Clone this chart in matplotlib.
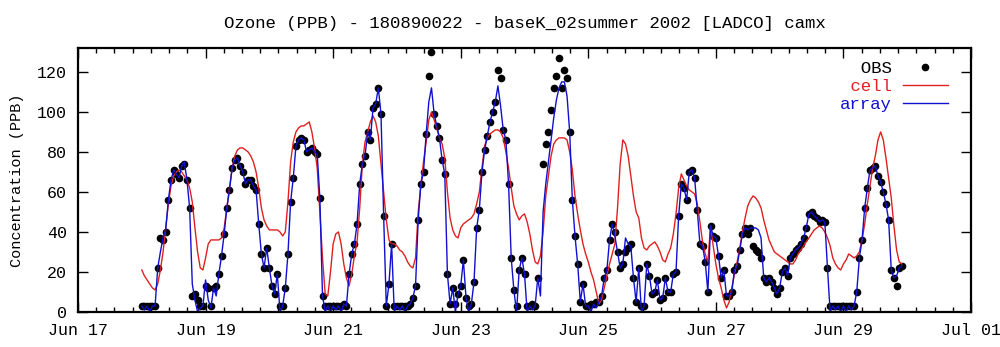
import numpy as np
import pandas as pd
import matplotlib
matplotlib.use('Agg')
import matplotlib.pyplot as plt
import matplotlib.dates as mdates
from matplotlib.ticker import FixedLocator

nan = np.nan

# hourly values, Jun 18 00:00 -> Jun 29 22:00 (one line per day)
obs = [
    3, 3, 3, 3, 3, 3, 22, 37, 36, 40, 56, 66, 71, 69, 67, 73, 74, 66, 52, 8, 9, 6, 3, 3,
    13, 12, 3, 12, 13, 19, 28, 39, 52, 61, 72, 76, 77, 73, 70, 64, 66, 66, 63, 61, 44, 29, 22, 32,
    22, 13, 9, 19, 3, 3, 12, 29, 55, 67, 83, 86, 87, 86, 80, 81, 82, 80, 79, 57, 8, 3, 3, 3,
    3, 3, 3, 3, 4, 3, 19, 29, 34, 44, 64, 74, 78, 90, 86, 102, 104, 112, 99, 48, 3, 14, 34, 3,
    3, 3, 3, 3, 3, 4, 7, 13, 46, 64, 70, 89, 118, 130, 99, 93, 87, 76, 69, 19, 4, 12, 4, 9,
    13, 26, 7, 3, 4, 15, 42, 51, 70, 81, 88, 95, 100, 105, 121, 117, 91, 86, 64, 27, 11, 3, 21, 27,
    19, 3, 3, 4, 3, 17, nan, 74, 84, 90, 101, 112, 118, 127, 112, 121, 117, 90, 56, 38, 24, 5, 14, 3,
    3, 4, 4, 5, 5, 8, 17, 21, 36, 44, 40, 30, 22, 24, 30, 32, 34, 17, 5, 22, 3, 3, 24, 18,
    9, 10, 16, 6, 7, 17, 10, 10, 19, 20, 48, 64, 62, 56, 70, 71, 67, 51, 34, 33, 25, 10, 43, 38,
    37, 28, 17, 21, 8, 8, 10, 21, 23, 31, 39, 42, 39, 42, 33, 31, 30, 27, 17, 15, 17, 15, 12, 9,
    12, 20, 22, 18, 27, 29, 31, 32, 34, 37, 42, 49, 50, 48, 47, 45, 46, 45, 22, 3, 3, 3, 3, 3,
    3, 3, 3, 3, 3, 10, 27, 36, 52, 62, 71, 72, 73, 68, 65, 60, 54, 46, 21, 17, 13, 22, 23,
]

cell = [
    21, 18, 16, 14, 12, 11, 14, 21, 30, 42, 54, 63, 68, 70, 71, 70, 68, 66, 62, 55, 42, 30, 22, 21,
    27, 34, 36, 36, 36, 36, 37, 42, 52, 62, 72, 78, 81, 82, 82, 81, 80, 78, 75, 70, 62, 52, 46, 43,
    41, 41, 41, 41, 40, 38, 40, 55, 75, 85, 90, 92, 93, 93, 94, 95, 90, 82, 72, 50, 27, 9, 8, 20,
    34, 39, 40, 34, 24, 17, 13, 19, 28, 35, 52, 74, 85, 90, 95, 98, 95, 88, 74, 60, 46, 36, 34, 34,
    33, 31, 30, 28, 25, 23, 22, 27, 50, 63, 75, 85, 96, 100, 96, 92, 87, 84, 77, 60, 47, 41, 38, 37,
    42, 44, 45, 46, 47, 49, 54, 60, 72, 83, 87, 89, 90, 91, 91, 90, 87, 80, 72, 62, 53, 49, 46, 48,
    49, 45, 39, 31, 25, 24, 28, 40, 58, 68, 78, 84, 86, 87, 87, 87, 86, 80, 71, 58, 49, 41, 34, 29,
    25, 20, 16, 10, 4, 6, 12, 18, 24, 29, 34, 52, 74, 86, 84, 78, 68, 58, 50, 47, 37, 32, 31, 33,
    34, 35, 33, 30, 26, 25, 29, 32, 39, 49, 62, 69, 66, 63, 61, 60, 59, 54, 45, 35, 29, 25, 43, 33,
    24, 17, 12, 6, 2, 5, 12, 19, 25, 32, 40, 47, 53, 56, 58, 57, 55, 52, 46, 41, 36, 33, 30, 29,
    28, 27, 26, 25, 24, 24, 26, 29, 31, 33, 35, 37, 39, 41, 42, 43, 42, 40, 37, 33, 27, 24, 22, 21,
    24, 26, 29, 28, 27, 28, 30, 36, 44, 54, 63, 72, 78, 86, 90, 86, 77, 67, 57, 43, 31, 25, 24,
]

array = [
    3, 1, 3, 0, 3, 3, 22, 30, 37, 41, 56, 66, 71, 69, 67, 73, 75, 66, 52, 14, 6, 0, 2, 3,
    16, 6, 2, 12, 8, 19, 28, 39, 52, 61, 72, 76, 77, 73, 70, 64, 66, 66, 63, 61, 44, 29, 22, 32,
    22, 13, 9, 19, 0, 3, 12, 29, 55, 67, 83, 86, 87, 86, 80, 81, 82, 80, 79, 57, 8, 0, 3, 0,
    3, 1, 3, 0, 4, 3, 19, 29, 34, 44, 64, 74, 78, 90, 86, 102, 104, 112, 99, 48, 3, 14, 34, 0,
    3, 1, 3, 0, 3, 4, 7, 13, 46, 64, 70, 89, 105, 112, 99, 93, 87, 76, 69, 19, 4, 12, 0, 9,
    13, 26, 7, 0, 4, 15, 42, 51, 70, 81, 88, 95, 100, 105, 113, 103, 91, 86, 64, 27, 11, 0, 21, 27,
    19, 0, 3, 1, 3, 17, 8, 50, 64, 75, 86, 97, 106, 112, 115, 115, 108, 90, 56, 38, 24, 5, 14, 3,
    3, 0, 4, 2, 5, 8, 17, 21, 36, 44, 38, 30, 22, 24, 37, 34, 33, 17, 5, 22, 0, 3, 24, 18,
    9, 10, 16, 6, 7, 17, 10, 10, 19, 20, 48, 64, 62, 56, 70, 71, 67, 51, 34, 33, 25, 10, 43, 38,
    37, 28, 17, 21, 8, 8, 10, 21, 23, 31, 39, 42, 41, 42, 42, 42, 41, 37, 17, 15, 17, 15, 12, 9,
    12, 20, 22, 18, 27, 29, 31, 32, 34, 37, 42, 49, 50, 48, 47, 45, 46, 45, 22, 0, 3, 1, 3, 0,
    3, 0, 3, 1, 3, 10, 27, 36, 52, 62, 71, 72, 73, 68, 65, 60, 54, 46, 21, 17, 18, 22, 23,
]

title = 'Ozone (PPB) - 180890022 - baseK_02summer 2002 [LADCO] camx'
ylabel = 'Concentration (PPB)'
yticks = [0, 20, 40, 60, 80, 100, 120]

plt.rcParams['font.family'] = ['Liberation Mono', 'DejaVu Sans Mono']

times = pd.date_range('2002-06-18 00:00', periods=len(obs), freq='h')

fig = plt.figure(figsize=(10, 3.47), dpi=100)
ax = fig.add_axes([0.078, 0.101, 0.893, 0.761])

ax.plot(times, obs, 'o', color='black', ms=4.5, label='  OBS')
ax.plot(times, cell, '-', color='#e02020', lw=1.0, label=' cell')
ax.plot(times, array, '-', color='#1010d0', lw=1.0, label='array')

x0 = pd.Timestamp('2002-06-17')
x1 = pd.Timestamp('2002-07-01')
ax.set_xlim(x0, x1)
ax.set_ylim(0, 132)

major = pd.date_range(x0, x1, freq='2D')
ax.xaxis.set_major_locator(FixedLocator(mdates.date2num(major)))
ax.xaxis.set_major_formatter(mdates.DateFormatter('%b %d'))
ax.xaxis.set_minor_locator(FixedLocator(mdates.date2num(x0) + np.arange(0, 50) * 2 / 7))
ax.set_yticks(yticks)

ax.tick_params(which='both', direction='in', top=True, right=True, width=1.0)
ax.tick_params(which='major', length=7, labelsize=12, pad=8)
ax.tick_params(which='minor', length=3.5)
for s in ax.spines.values():
    s.set_linewidth(1.6)

ax.set_ylabel(ylabel, fontsize=11, labelpad=9)
ax.set_title(title, fontsize=12.5, pad=14)

ax.legend(loc='upper right', bbox_to_anchor=(0.974, 0.95), frameon=False,
          markerfirst=False, fontsize=12.5, handlelength=2.6, handletextpad=0.6,
          borderaxespad=0, borderpad=0, labelspacing=0.15,
          labelcolor=['black', '#e02020', '#1010d0'])

fig.savefig('out.png', dpi=100)
